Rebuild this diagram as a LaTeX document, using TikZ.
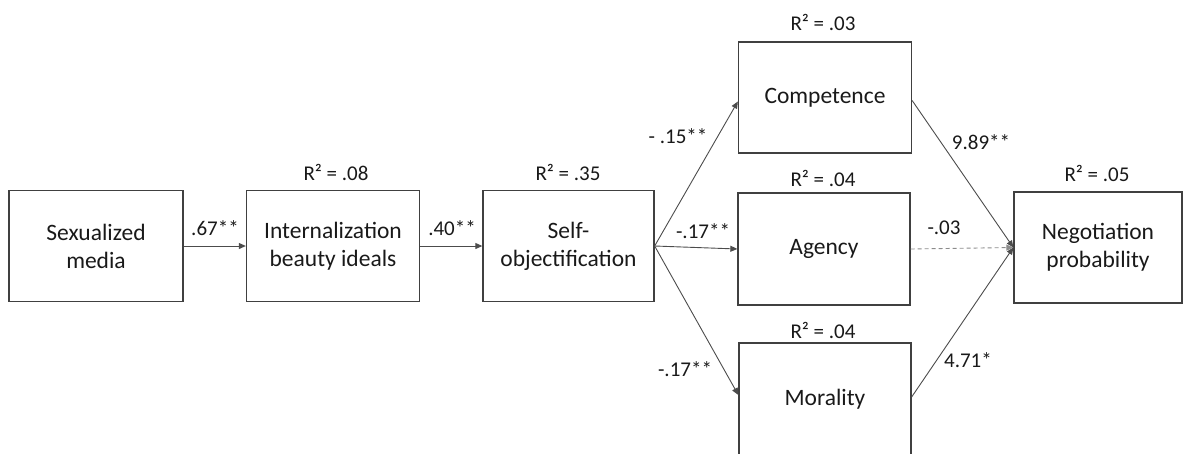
\documentclass[tikz,border=0pt]{standalone}
\usepackage{fontspec}
\setmainfont{Carlito}
\usetikzlibrary{arrows.meta}
\begin{document}
\begin{tikzpicture}[x=1pt,y=-1pt,
  box/.style={draw=black!75, line width=1.3pt, minimum width=172pt, minimum height=111pt,
    align=center, font=\fontsize{23.5}{28}\selectfont, inner sep=0pt, text=black!90},
  conn/.style={draw=black!70, line width=0.9pt, -{Triangle[length=7pt,width=6pt]}},
  dconn/.style={conn, draw=black!45, dash pattern=on 4pt off 3pt},
  lab/.style={font=\fontsize{21}{24}\selectfont, inner sep=0pt, text=black!90}]
\useasboundingbox (0,0) rectangle (1184,453);
\node[box, minimum width=174pt] (sex) at (96,246) {Sexualized\\media};
\node[box, minimum width=173pt] (int) at (333,246) {Internalization\\beauty ideals};
\node[box, minimum width=171pt] (self) at (568.5,246) {Self-\\objectification};
\node[box, minimum width=173pt] (comp) at (825,97.5) {Competence};
\node[box, minimum width=172pt, minimum height=112pt] (agen) at (824,249) {Agency};
\node[box, minimum width=172pt, minimum height=112pt] (mor) at (825,399) {Morality};
\node[box, minimum width=168pt] (neg) at (1098,247.5) {Negotiation\\probability};

\node[lab] (r1) at (336,172) {R² = .08};
\node[lab] (r2) at (568,172) {R² = .35};
\node[lab] (r3) at (823,22) {R² = .03};
\node[lab] (r4) at (823,178) {R² = .04};
\node[lab] (r5) at (823,330) {R² = .04};
\node[lab] (r6) at (1097,173) {R² = .05};

\draw[conn] (sex.east) -- (int.west);
\draw[conn] (int.east) -- (self.west);
\draw[conn] (self.east) -- ([yshift=-4pt]comp.west);
\draw[conn] (self.east) -- (agen.west);
\draw[conn] (self.east) -- ([yshift=4pt]mor.west);
\draw[conn] ([yshift=-3pt]comp.east) -- (neg.west);
\draw[dconn] (agen.east) -- (neg.west);
\draw[conn] ([yshift=2pt]mor.east) -- (neg.west);

\node[lab] (e1) at (215,228) {.67**};
\node[lab] (e2) at (452,228) {.40**};
\node[lab] (e3) at (678,136) {- .15**};
\node[lab] (e4) at (703,231) {-.17**};
\node[lab] (e5) at (685,369) {-.17**};
\node[lab] (e6) at (981,142) {9.89**};
\node[lab] (e7) at (944,228) {-.03};
\node[lab] (e8) at (968,360) {4.71*};
\end{tikzpicture}
\end{document}
